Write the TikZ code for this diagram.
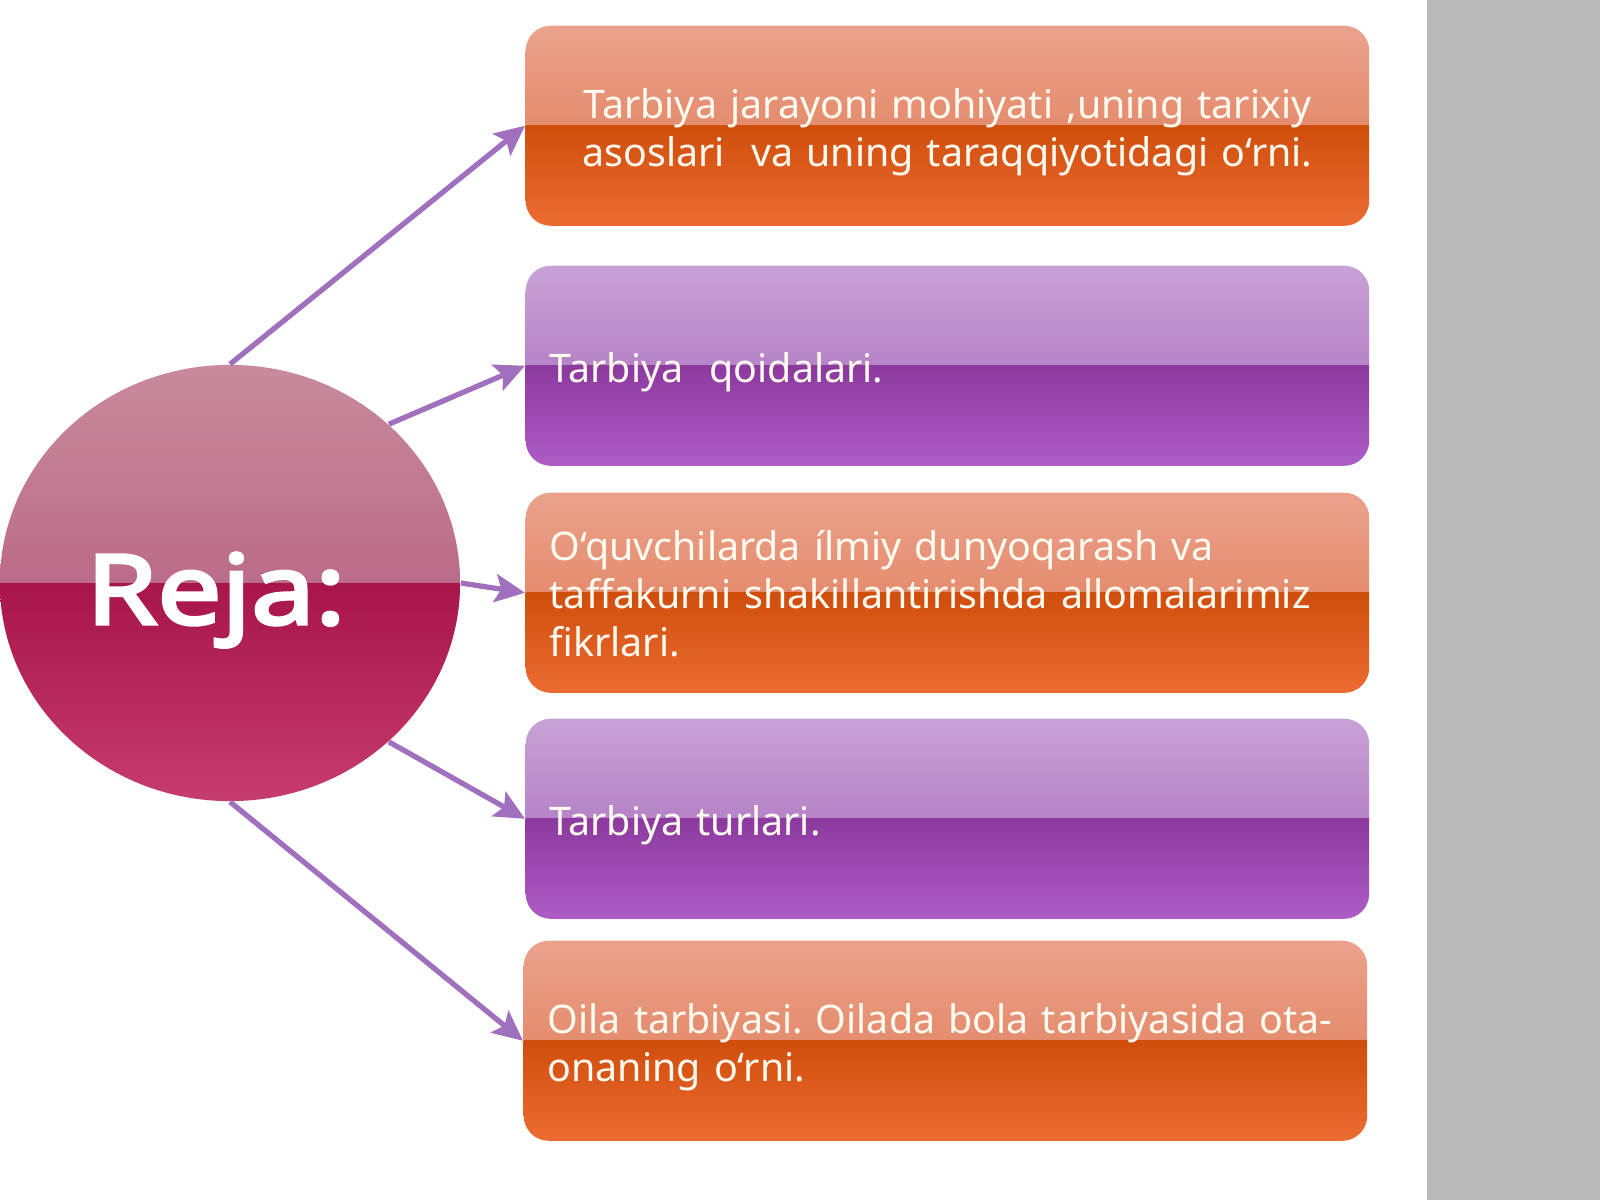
\documentclass[tikz,border=0pt]{standalone}
\usepackage{fontspec}
\setmainfont{Noto Sans}
\newfontfamily\rejafont{Noto Sans}[FakeBold=3.5, FakeStretch=1.18]
\usetikzlibrary{shapes.geometric,arrows.meta}
\definecolor{orA}{HTML}{EAA28C}
\definecolor{orB}{HTML}{E07650}
\definecolor{orC}{HTML}{D04E0C}
\definecolor{orD}{HTML}{EC6B32}
\definecolor{puA}{HTML}{C8A2D6}
\definecolor{puB}{HTML}{A565B8}
\definecolor{puC}{HTML}{8C3A9E}
\definecolor{puD}{HTML}{AE5CC6}
\definecolor{ciA}{HTML}{C88A9C}
\definecolor{ciB}{HTML}{B04D74}
\definecolor{ciC}{HTML}{A81549}
\definecolor{ciD}{HTML}{C63C6C}
\definecolor{arrowc}{HTML}{A070BE}
\definecolor{txtc}{HTML}{FFFBF0}
\definecolor{band}{HTML}{BABABA}
\tikzset{
  gloss/.style n args={4}{path picture={
    \shade[sharp corners, top color=#1, bottom color=#2] (path picture bounding box.north west) rectangle (path picture bounding box.east);
    \shade[sharp corners, top color=#3, bottom color=#4] (path picture bounding box.west) rectangle (path picture bounding box.south east);
  }},
  planbox/.style={rectangle, rounded corners=2.5mm, minimum width=8.43cm, minimum height=2cm,
    inner sep=0pt, text width=7.95cm, align=left, text=txtc, anchor=north west,
    font=\fontsize{11.2pt}{13.7pt}\selectfont\frenchspacing,
    execute at begin node={\rule{0pt}{12pt}}},
  orbox/.style={planbox, gloss={orA}{orB}{orC}{orD}},
  pubox/.style={planbox, gloss={puA}{puB}{puC}{puD}},
  link/.style={draw=arrowc, line width=1.5pt, -{Stealth[length=3mm, width=2.8mm, inset=0.6mm]}},
}
\begin{document}
\begin{tikzpicture}[x=0.01cm, y=-0.01cm]
\useasboundingbox (0,0) rectangle (1600,1200);
\fill[white] (0,0) rectangle (1600,1200);
\fill[band] (1427,0) rectangle (1600,1200);

\node[ellipse, minimum width=4.6cm, minimum height=4.36cm, inner sep=0pt,
      gloss={ciA}{ciB}{ciC}{ciD}] (reja) at (230,583) {};
\node[text=white, font=\rejafont\fontsize{27.5pt}{30pt}\selectfont] (rejalabel) at (216,600) {Reja:};

\node[orbox, align=center] (b1) at (525,25) {Tarbiya jarayoni mohiyati ,uning tarixiy\\asoslari\ \ va uning taraqqiyotidagi o‘rni.};
\node[pubox] (b2) at (525,265) {Tarbiya\ \ qoidalari.};
\node[orbox] (b3) at (525,492) {O‘quvchilarda ílmiy dunyoqarash va\\taffakurni shakillantirishda allomalarimiz\\fikrlari.\rule[-3pt]{0pt}{3pt}};
\node[pubox] (b4) at (525,718) {Tarbiya turlari.};
\node[orbox] (b5) at (523,940) {Oila tarbiyasi. Oilada bola tarbiyasida ota-\\onaning o‘rni.};

\draw[link] (reja.north) -- (b1.west);
\draw[link] (reja.45) -- (b2.west);
\draw[link] (reja.east) -- (b3.west);
\draw[link] (reja.-45) -- (b4.west);
\draw[link] (reja.south) -- (b5.west);
\end{tikzpicture}
\end{document}
